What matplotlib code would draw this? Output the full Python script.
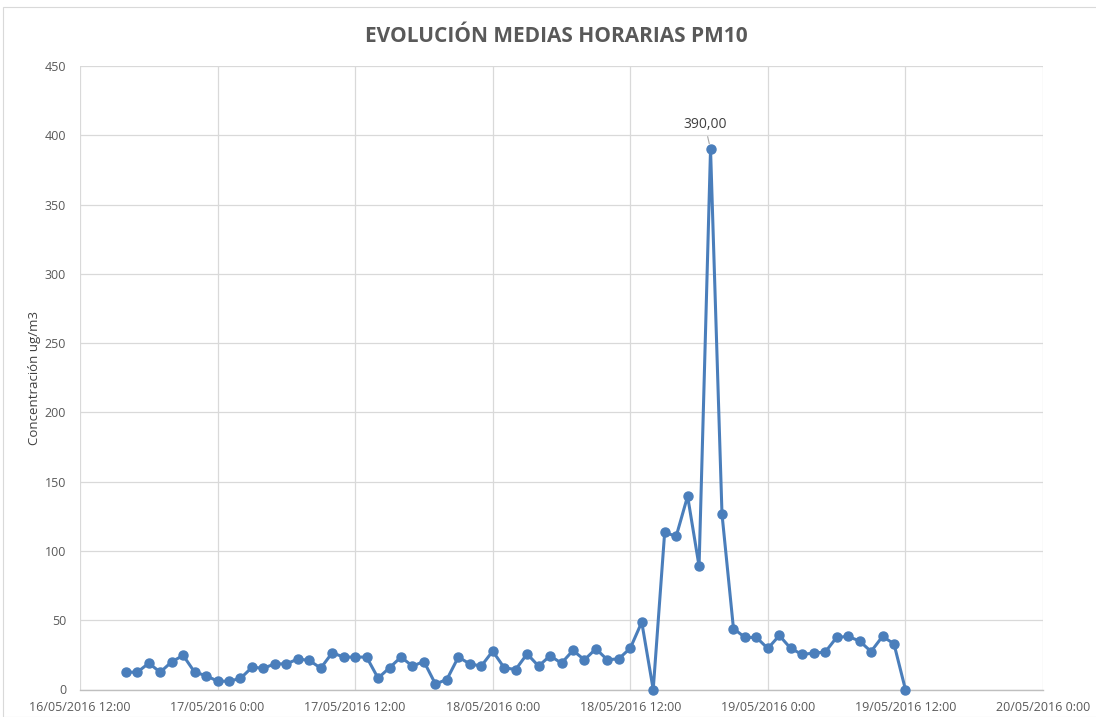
import matplotlib
matplotlib.use("Agg")
import matplotlib.pyplot as plt
import matplotlib.dates as mdates
import numpy as np
import pandas as pd
from matplotlib.patches import Rectangle

start = "2016-05-16 16:00"
pm10 = [12.5, 12.5, 19, 12.5, 20, 24.6, 12.5, 10,
        6, 6, 8, 16, 15.4, 18.5, 18.5, 22, 21, 15.4, 26.5, 23.4,
        23.4, 23.4, 8.2, 15.7, 23.4, 16.9, 20.2, 4, 7.2, 23.4, 18.5, 16.9,
        27.7, 15.7, 14.4, 25.7, 16.9, 24.3, 19, 28.2, 21.4, 29.4, 21.4, 22.2,
        29.8, 48.6, 0, 113.5, 110.5, 139.5, 89, 390, 126.5, 44, 37.6, 37.6,
        29.6, 39, 29.6, 25.3, 26.3, 27, 37.6, 38.3, 35, 27.4, 38.3, 33, 0]
times = pd.date_range(start, periods=len(pm10), freq="h")

xticks = pd.date_range("2016-05-16 12:00", "2016-05-20 00:00", freq="12h")
xtick_labels = ["16/05/2016 12:00", "17/05/2016 0:00", "17/05/2016 12:00",
                "18/05/2016 0:00", "18/05/2016 12:00", "19/05/2016 0:00",
                "19/05/2016 12:00", "20/05/2016 0:00"]
yticks = list(range(0, 451, 50))

title = "EVOLUCIÓN MEDIAS HORARIAS PM10"
ylabel = "Concentración ug/m3"

plt.rcParams['font.family'] = ['Open Sans', 'DejaVu Sans']

W, H = 1096, 717
fig = plt.figure(figsize=(W / 100, H / 100), dpi=100)
ax = fig.add_axes([80 / W, 1 - 689.5 / H, (1043 - 80) / W, (689.5 - 66) / H])

line_color = "#4a7ebb"
ax.plot(times, pm10, color=line_color, lw=2.2, marker="o", ms=6.5,
        markerfacecolor=line_color, markeredgecolor=line_color, zorder=3,
        clip_on=False)

ax.set_xlim(xticks[0], xticks[-1])
ax.set_ylim(0, 450)
ax.set_xticks(xticks)
ax.set_xticklabels(xtick_labels)
ax.set_yticks(yticks)
ax.set_yticklabels([str(v) for v in yticks])
ax.tick_params(axis="both", length=0, labelsize=9, colors="#595959")
ax.tick_params(axis="x", pad=8)
ax.tick_params(axis="y", pad=10)
ax.grid(True, color="#d9d9d9", lw=0.9)
ax.set_axisbelow(True)
for s in ["top", "right", "left"]:
    ax.spines[s].set_visible(False)
ax.spines["bottom"].set_color("#bfbfbf")
ax.spines["bottom"].set_linewidth(1.0)

# peak label
imax = int(np.argmax(pm10))
ax.annotate(f"{pm10[imax]:.2f}".replace(".", ","), xy=(times[imax], pm10[imax]),
            xytext=(-4, 12), textcoords="offset points", ha="center", va="bottom",
            fontsize=10, color="#404040",
            arrowprops=dict(arrowstyle="-", color="#a6a6a6", lw=0.8,
                            shrinkA=1, shrinkB=4))

fig.text(556 / W, 1 - 36 / H, title, ha="center", va="center",
         fontsize=15, fontweight="bold", color="#595959")
fig.text(35 / W, 1 - 378 / H, ylabel, ha="center", va="center", rotation=90,
         fontsize=9.5, color="#404040")

fig.patches.append(Rectangle((3 / W, 0), 1.2, 1 - 7 / H, transform=fig.transFigure,
                             fill=False, edgecolor="#d9d9d9", lw=0.8))

fig.savefig("out.png", dpi=100, facecolor="white")
